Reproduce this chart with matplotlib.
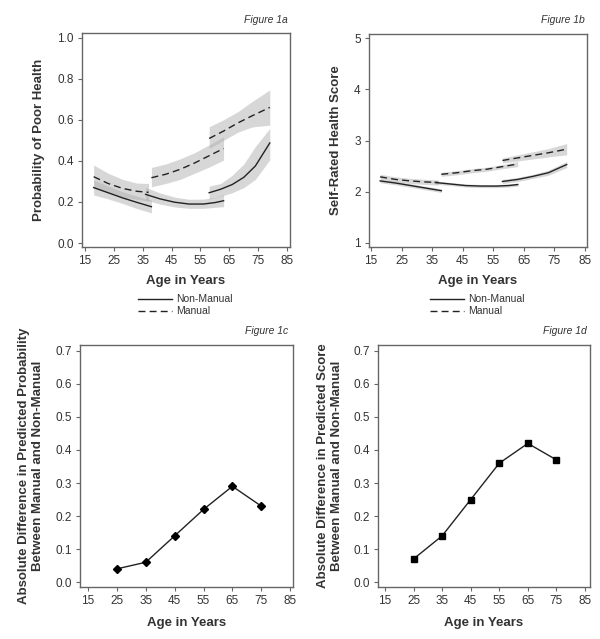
import matplotlib
matplotlib.use("Agg")
import matplotlib.pyplot as plt
from matplotlib.lines import Line2D

plt.rcParams['font.family'] = ['Liberation Sans', 'DejaVu Sans']

TXT = '#333333'
LINE = '#222222'
SPINE = '#666666'
BAND = '#b0b0b0'

# ---- Figure 1a: probability of poor health (three age segments per group)
# each segment: ages, fitted value, lower CI, upper CI
prob_nm_1 = ([18, 23, 28, 33, 38],
             [0.270, 0.245, 0.220, 0.198, 0.177],
             [0.234, 0.215, 0.193, 0.168, 0.147],
             [0.307, 0.278, 0.250, 0.228, 0.209])
prob_nm_2 = ([36, 41, 46, 51, 56, 60, 63],
             [0.237, 0.215, 0.199, 0.190, 0.190, 0.197, 0.206],
             [0.209, 0.190, 0.176, 0.169, 0.169, 0.174, 0.177],
             [0.271, 0.244, 0.224, 0.213, 0.214, 0.222, 0.236])
prob_nm_3 = ([58, 62, 66, 70, 74, 79],
             [0.245, 0.262, 0.285, 0.320, 0.375, 0.487],
             [0.213, 0.228, 0.245, 0.270, 0.310, 0.405],
             [0.277, 0.290, 0.330, 0.385, 0.470, 0.558])
prob_m_1 = ([18, 23, 28, 33, 37],
            [0.323, 0.290, 0.266, 0.252, 0.247],
            [0.270, 0.245, 0.225, 0.212, 0.205],
            [0.380, 0.340, 0.310, 0.292, 0.290])
prob_m_2 = ([38, 43, 48, 53, 58, 63],
            [0.318, 0.335, 0.359, 0.390, 0.425, 0.460],
            [0.274, 0.290, 0.310, 0.340, 0.370, 0.404],
            [0.368, 0.385, 0.410, 0.440, 0.478, 0.517])
prob_m_3 = ([58, 63, 68, 73, 79],
            [0.509, 0.545, 0.585, 0.620, 0.660],
            [0.460, 0.500, 0.540, 0.565, 0.574],
            [0.566, 0.600, 0.640, 0.690, 0.745])

# ---- Figure 1b: self-rated health score
srh_nm_1 = ([18, 23, 28, 33, 38],
            [2.21, 2.17, 2.12, 2.07, 2.02],
            [2.175, 2.135, 2.085, 2.035, 1.985],
            [2.245, 2.205, 2.155, 2.105, 2.055])
srh_nm_2 = ([36, 41, 46, 51, 56, 60, 63],
            [2.18, 2.15, 2.12, 2.11, 2.11, 2.12, 2.14],
            [2.15, 2.12, 2.09, 2.08, 2.08, 2.09, 2.11],
            [2.21, 2.18, 2.15, 2.14, 2.14, 2.15, 2.17])
srh_nm_3 = ([58, 63, 68, 73, 79],
            [2.20, 2.24, 2.30, 2.37, 2.53],
            [2.16, 2.20, 2.26, 2.32, 2.47],
            [2.24, 2.28, 2.34, 2.42, 2.59])
srh_m_1 = ([18, 23, 28, 33, 37],
           [2.29, 2.24, 2.21, 2.19, 2.18],
           [2.24, 2.19, 2.16, 2.14, 2.13],
           [2.34, 2.29, 2.26, 2.24, 2.23])
srh_m_2 = ([38, 43, 48, 53, 58, 63],
           [2.34, 2.37, 2.41, 2.44, 2.49, 2.54],
           [2.30, 2.33, 2.37, 2.40, 2.45, 2.49],
           [2.38, 2.41, 2.45, 2.48, 2.53, 2.59])
srh_m_3 = ([58, 63, 68, 73, 79],
           [2.61, 2.66, 2.71, 2.76, 2.83],
           [2.56, 2.60, 2.64, 2.68, 2.72],
           [2.66, 2.72, 2.78, 2.84, 2.94])

# ---- Figures 1c / 1d: absolute differences
diff_ages = [25, 35, 45, 55, 65, 75]
diff_prob = [0.04, 0.06, 0.14, 0.22, 0.29, 0.23]
diff_score = [0.07, 0.14, 0.25, 0.36, 0.42, 0.37]

age_ticks = [15, 25, 35, 45, 55, 65, 75, 85]

W, H = 600, 639
fig = plt.figure(figsize=(W / 100, H / 100), dpi=100)


def add_ax(left, top, right, bottom):
    return fig.add_axes([left / W, 1 - bottom / H, (right - left) / W, (bottom - top) / H])


def style(ax):
    for s in ax.spines.values():
        s.set_color(SPINE)
        s.set_linewidth(1.0)
    ax.tick_params(direction='out', length=3, width=0.8, color=SPINE,
                   labelsize=8.5, labelcolor=TXT, pad=3)
    ax.set_xticks(age_ticks)


def draw_segments(ax, segs, ls):
    for ages, fit, lo, hi in segs:
        ax.fill_between(ages, lo, hi, color=BAND, alpha=0.5, lw=0)
        ax.plot(ages, fit, color=LINE, lw=1.0, ls=ls, dashes=(5, 3) if ls == '--' else (None, None))


def label_panel(ax, xlab_y, ylab_x, ylab, title_x, title_y, title):
    fig.text(title_x / W, 1 - title_y / H, title, ha='right', va='center',
             style='italic', fontsize=7.5, color=TXT)
    pos = ax.get_position()
    fig.text(ylab_x / W, pos.y0 + pos.height / 2, ylab, rotation=90, ha='center',
             va='center', fontsize=9.5, fontweight='bold', color=TXT, linespacing=1.15)
    fig.text(pos.x0 + pos.width / 2, 1 - xlab_y / H, 'Age in Years', ha='center',
             va='center', fontsize=9.5, fontweight='bold', color=TXT)


def add_legend(x, y):
    handles = [Line2D([], [], color=LINE, lw=1.0),
               Line2D([], [], color=LINE, lw=1.0, ls='--', dashes=(5, 3))]
    fig.legend(handles, ['Non-Manual', 'Manual'], loc='upper left',
               bbox_to_anchor=(x / W, 1 - y / H), frameon=False, fontsize=7.5,
               handlelength=3.2, handletextpad=0.4, labelspacing=0.2,
               borderpad=0, labelcolor=TXT)


# Figure 1a
ax1 = add_ax(82, 33, 290, 247)
draw_segments(ax1, [prob_nm_1, prob_nm_2, prob_nm_3], '-')
draw_segments(ax1, [prob_m_1, prob_m_2, prob_m_3], '--')
ax1.set_xlim(13.96, 86.0)
ax1.set_ylim(-0.019, 1.022)
ax1.set_yticks([0.0, 0.2, 0.4, 0.6, 0.8, 1.0])
ax1.set_yticklabels(['0.0', '0.2', '0.4', '0.6', '0.8', '1.0'])
style(ax1)
label_panel(ax1, 281, 39, 'Probability of Poor Health', 288, 20, 'Figure 1a')
add_legend(133, 289)

# Figure 1b
ax2 = add_ax(369, 34, 587, 247)
draw_segments(ax2, [srh_nm_1, srh_nm_2, srh_nm_3], '-')
draw_segments(ax2, [srh_m_1, srh_m_2, srh_m_3], '--')
ax2.set_xlim(14.35, 85.65)
ax2.set_ylim(0.92, 5.08)
ax2.set_yticks([1, 2, 3, 4, 5])
style(ax2)
label_panel(ax2, 281, 336, 'Self-Rated Health Score', 585, 20, 'Figure 1b')
add_legend(425, 289)

# Figure 1c
ax3 = add_ax(80, 345, 293, 587)
ax3.plot(diff_ages, diff_prob, color=LINE, lw=1.0, marker='D', markersize=4.3,
         markerfacecolor='black', markeredgecolor='black')
ax3.set_xlim(12.2, 86.0)
ax3.set_ylim(-0.015, 0.718)
ax3.set_yticks([0.0, 0.1, 0.2, 0.3, 0.4, 0.5, 0.6, 0.7])
style(ax3)
label_panel(ax3, 623, 31, 'Absolute Difference in Predicted Probability\nBetween Manual and Non-Manual',
            288, 331, 'Figure 1c')

# Figure 1d
ax4 = add_ax(378, 345, 590, 587)
ax4.plot(diff_ages, diff_score, color=LINE, lw=1.0, marker='s', markersize=4.3,
         markerfacecolor='black', markeredgecolor='black')
ax4.set_xlim(12.55, 86.75)
ax4.set_ylim(-0.015, 0.718)
ax4.set_yticks([0.0, 0.1, 0.2, 0.3, 0.4, 0.5, 0.6, 0.7])
style(ax4)
label_panel(ax4, 623, 330, 'Absolute Difference in Predicted Score\nBetween Manual and Non-Manual',
            587, 331, 'Figure 1d')

fig.savefig('out.png', dpi=100)
